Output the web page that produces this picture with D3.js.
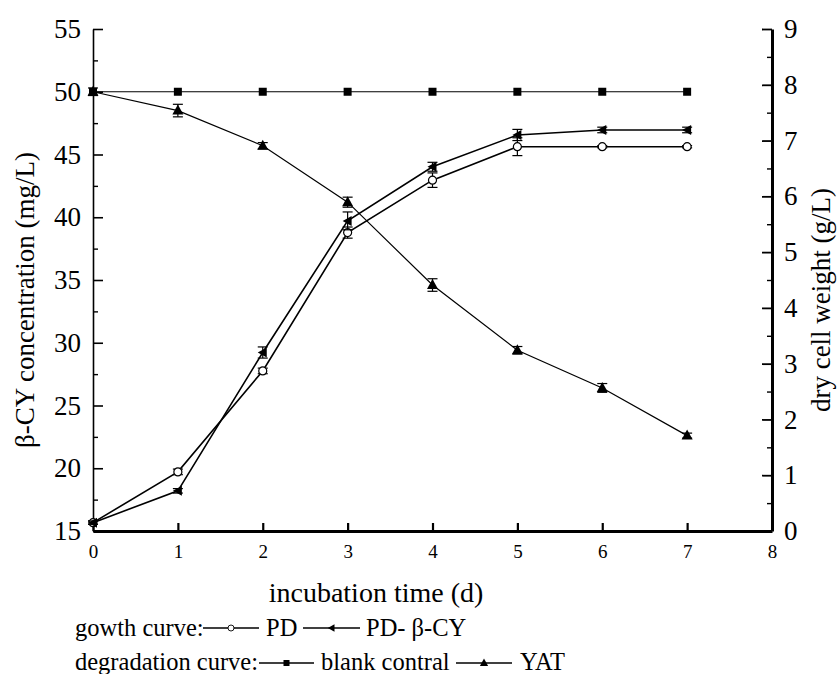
<!DOCTYPE html>
<html><head><meta charset="utf-8">
<script src="https://cdn.jsdelivr.net/npm/d3@7"></script>
<style>
body{margin:0;background:#fff;}
</style></head>
<body><svg id="c" width="837" height="674"></svg>
<script>
const days = [0,1,2,3,4,5,6,7];
const xTicks = [0,1,2,3,4,5,6,7,8];
const leftTicks = [15,20,25,30,35,40,45,50,55];
const rightTicks = [0,1,2,3,4,5,6,7,8,9];
// degradation curves (mg/L, left axis)
const blank = [50,50,50,50,50,50,50,50];
const yat = [50,48.5,45.7,41.2,34.6,29.4,26.4,22.6];
const yatErr = [0.3,0.5,0.25,0.4,0.5,0.3,0.35,0.2];
// growth curves (g/L, right axis)
const pd = [0.15,1.06,2.87,5.35,6.29,6.89,6.89,6.89];
const pdErr = [0.03,0.05,0.05,0.1,0.13,0.16,0.02,0.02];
const pdcy = [0.15,0.72,3.2,5.56,6.53,7.10,7.19,7.19];
const pdcyErr = [0.03,0.04,0.1,0.16,0.08,0.1,0.05,0.05];

const FONT = "'Liberation Serif', 'Times New Roman', Tinos, 'DejaVu Serif', serif";
const svg = d3.select("#c");
const x = d3.scaleLinear([0,8],[93,772]);
const yL = d3.scaleLinear([15,55],[531,29]);
const yR = d3.scaleLinear([0,9],[531,29]);

// left axis
const gl = svg.append("g").attr("transform","translate(93,0)");
gl.call(d3.axisLeft(yL).tickValues(leftTicks).tickSize(-10).tickSizeOuter(0).tickPadding(12));
gl.selectAll("text").style("font-size","27px");
gl.select(".domain").attr("stroke-width",1.6);
gl.selectAll(".tick line").attr("stroke-width",1.6);
const glm = svg.append("g").attr("transform","translate(93,0)");
glm.call(d3.axisLeft(yL).tickValues(d3.range(17.5,55,5)).tickSize(-5).tickFormat(""));
glm.select(".domain").remove();
glm.selectAll(".tick line").attr("stroke-width",1.4);

// right axis
const gr = svg.append("g").attr("transform","translate(772,0)");
gr.call(d3.axisRight(yR).tickValues(rightTicks).tickSize(-10).tickSizeOuter(0).tickPadding(12));
gr.selectAll("text").style("font-size","27px");
gr.select(".domain").attr("stroke-width",3);
gr.selectAll(".tick line").attr("stroke-width",1.8);
const grm = svg.append("g").attr("transform","translate(772,0)");
grm.call(d3.axisRight(yR).tickValues(d3.range(0.5,9,1)).tickSize(-5).tickFormat(""));
grm.select(".domain").remove();
grm.selectAll(".tick line").attr("stroke-width",1.4);

// bottom axis
const gb = svg.append("g").attr("transform","translate(0,531)");
gb.call(d3.axisBottom(x).tickValues(xTicks).tickSize(-8).tickSizeOuter(0).tickPadding(14));
gb.selectAll("text").style("font-size","19px");
gb.select(".domain").attr("stroke-width",3);
gb.selectAll(".tick line").attr("stroke-width",2.2);

// titles
svg.append("text").attr("x",376).attr("y",602).attr("text-anchor","middle").style("font-size","28px").text("incubation time (d)");
svg.append("text").attr("transform","translate(34,300) rotate(-90)").attr("text-anchor","middle").style("font-size","27px").text("β-CY concentration (mg/L)");
svg.append("text").attr("transform","translate(830,300) rotate(-90)").attr("text-anchor","middle").style("font-size","27px").text("dry cell weight (g/L)");

// series drawing helpers
function drawLine(vals, y, sw){
  svg.append("path").datum(vals).attr("fill","none").attr("stroke","#000").attr("stroke-width",sw||1.2)
    .attr("d", d3.line().x((d,i)=>x(days[i])).y(d=>y(d)));
}
function drawErr(vals, errs, y){
  const g = svg.append("g").attr("stroke","#000").attr("stroke-width",1.2);
  vals.forEach((v,i)=>{
    const cx = x(days[i]), y1 = y(v-errs[i]), y2 = y(v+errs[i]);
    g.append("line").attr("x1",cx).attr("x2",cx).attr("y1",y1).attr("y2",y2);
    g.append("line").attr("x1",cx-5).attr("x2",cx+5).attr("y1",y1).attr("y2",y1);
    g.append("line").attr("x1",cx-5).attr("x2",cx+5).attr("y1",y2).attr("y2",y2);
  });
}
const sym = {
  square: g=>g.append("rect").attr("x",-4).attr("y",-4).attr("width",8).attr("height",8).attr("fill","#000"),
  tri: g=>g.append("path").attr("d","M0,-6L5.5,4L-5.5,4Z").attr("fill","#000"),
  circ: g=>g.append("circle").attr("r",4).attr("fill","#fff").attr("stroke","#000").attr("stroke-width",1.2),
  ltri: g=>g.append("path").attr("d","M-5,0L4,-5L4,5Z").attr("fill","#000")
};
function drawMarks(vals, y, s){
  vals.forEach((v,i)=>{
    const g = svg.append("g").attr("transform",`translate(${x(days[i])},${y(v)})`);
    sym[s](g);
  });
}

drawLine(blank, yL); drawMarks(blank, yL, "square");
drawLine(yat, yL); drawErr(yat, yatErr, yL); drawMarks(yat, yL, "tri");
drawLine(pd, yR, 1.6); drawErr(pd, pdErr, yR); drawMarks(pd, yR, "circ");
drawLine(pdcy, yR, 1.6); drawErr(pdcy, pdcyErr, yR); drawMarks(pdcy, yR, "ltri");

// legend
function legItem(x0, x1, cy, s){
  svg.append("line").attr("x1",x0).attr("x2",x1).attr("y1",cy).attr("y2",cy).attr("stroke","#000").attr("stroke-width",1.6);
  const g = svg.append("g").attr("transform",`translate(${(x0+x1)/2},${cy}) scale(0.75)`);
  sym[s](g);
}
const fs = "24.5px";
svg.append("text").attr("x",75).attr("y",636).style("font-size",fs).text("gowth curve:");
legItem(203,259,628,"circ");
svg.append("text").attr("x",266).attr("y",636).style("font-size",fs).text("PD");
legItem(303,360,628,"ltri");
svg.append("text").attr("x",366).attr("y",636).style("font-size",fs).text("PD- β-CY");
svg.append("text").attr("x",75).attr("y",670).style("font-size",fs).text("degradation curve:");
legItem(259,314,663,"square");
svg.append("text").attr("x",321).attr("y",670).style("font-size",fs).text("blank contral");
legItem(456,512,663,"tri");
svg.append("text").attr("x",520).attr("y",670).style("font-size",fs).text("YAT");

svg.selectAll("g").attr("font-family", null);
svg.selectAll("text").attr("font-family", FONT).style("font-family", FONT).attr("fill","#000");
</script></body></html>
